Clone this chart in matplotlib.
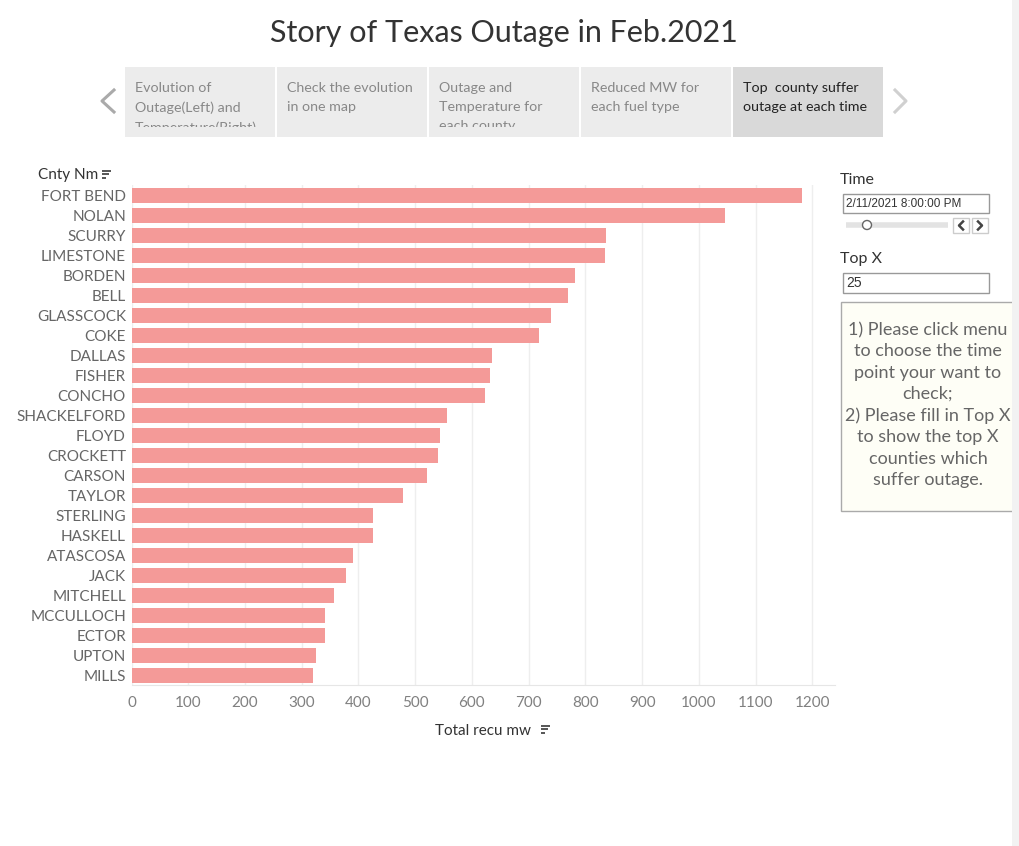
import matplotlib
matplotlib.use('Agg')
import matplotlib.pyplot as plt
from matplotlib.patches import Rectangle, Circle

plt.rcParams['font.family'] = ['Lato', 'DejaVu Sans']

# ================== data ==================
counties = ['FORT BEND', 'NOLAN', 'SCURRY', 'LIMESTONE', 'BORDEN', 'BELL', 'GLASSCOCK',
            'COKE', 'DALLAS', 'FISHER', 'CONCHO', 'SHACKELFORD', 'FLOYD', 'CROCKETT',
            'CARSON', 'TAYLOR', 'STERLING', 'HASKELL', 'ATASCOSA', 'JACK', 'MITCHELL',
            'MCCULLOCH', 'ECTOR', 'UPTON', 'MILLS']
total_mw = [1181, 1046, 836, 834, 781, 769, 739, 718, 635, 632, 623, 556, 544, 540,
            521, 478, 426, 426, 391, 378, 357, 341, 341, 325, 320]
x_ticks = [0, 100, 200, 300, 400, 500, 600, 700, 800, 900, 1000, 1100, 1200]

tab_titles = ['Evolution of\nOutage(Left) and\nTemperature(Right)',
              'Check the evolution\nin one map',
              'Outage and\nTemperature for\neach county',
              'Reduced MW for\neach fuel type',
              'Top  county suffer\noutage at each time']
note_text = ('1) Please click menu\nto choose the time\npoint your want to\ncheck;\n'
             '2) Please fill in Top X\nto show the top X\ncounties which\nsuffer outage.')

W, H = 1019, 846
fig = plt.figure(figsize=(W / 100, H / 100), dpi=100)

# overlay in pixel coords for the dashboard pieces
ov = fig.add_axes([0, 0, 1, 1], zorder=0)
ov.set_xlim(0, W)
ov.set_ylim(H, 0)
ov.axis('off')

# ================== bar chart ==================
ax_l, ax_r, ax_t, ax_b = 131.5, 835, 185, 685
ax = fig.add_axes([ax_l / W, 1 - ax_b / H, (ax_r - ax_l) / W, (ax_b - ax_t) / H], zorder=2)
ax.patch.set_alpha(0)
ypos = list(range(len(counties)))
ax.barh(ypos, total_mw, height=0.75, color='#f49a98', zorder=2)
ax.set_ylim(len(counties) - 0.5, -0.5)
ax.set_xlim(0, 1240)
ax.set_yticks(ypos)
ax.set_yticklabels(counties, fontsize=11, color='#666666')
ax.set_xticks(x_ticks)
ax.set_xticklabels([str(v) for v in x_ticks], fontsize=11, color='#808080')
ax.tick_params(axis='y', length=0, pad=4)
ax.tick_params(axis='x', length=0, pad=8)
ax.grid(axis='x', color='#eeeeee', linewidth=1, zorder=0)
for s in ['top', 'right', 'left']:
    ax.spines[s].set_visible(False)
ax.spines['bottom'].set_color('#e6e6e6')
ax.set_xlabel('Total recu mw', fontsize=11, color='#333333', labelpad=10)

# sort icons
def sort_icon(x, y):
    for i, w in enumerate([9, 7, 4]):
        ov.plot([x, x + w], [y + i * 3.5, y + i * 3.5], color='#555555', lw=1.4,
                solid_capstyle='butt')

ov.text(38, 175, 'Cnty Nm', fontsize=11, color='#333333', va='center', ha='left')
sort_icon(102, 171)
sort_icon(541, 726)

# ================== title ==================
ov.text(504, 33, 'Story of Texas Outage in Feb.2021', fontsize=22, color='#333333',
        ha='center', va='center')

# ================== story tabs ==================
tab_x = [125, 277, 429, 581, 733]
for i, (tx, title) in enumerate(zip(tab_x, tab_titles)):
    selected = i == len(tab_titles) - 1
    box = Rectangle((tx, 67), 150, 70, facecolor='#d9d9d9' if selected else '#ececec',
                    edgecolor='none')
    ov.add_patch(box)
    clip = Rectangle((tx, 67), 150, 60, transform=ov.transData, visible=False)
    ov.add_patch(clip)
    t = ov.text(tx + 10, 82, title, fontsize=10.3, color='#222222' if selected else '#888888',
                ha='left', va='top', linespacing=1.72, clip_on=True)
    t.set_clip_path(clip)
# story navigation chevrons
ov.plot([114, 102, 114], [90, 101, 112], color='#aaaaaa', lw=2.2)
ov.plot([895, 906, 895], [90, 101, 112], color='#d0d0d0', lw=2.2)

# ================== right panel ==================
ov.text(840, 180, 'Time', fontsize=11.5, color='#333333', va='center')
ov.add_patch(Rectangle((843, 194), 146, 19, facecolor='white', edgecolor='#999999', lw=1))
ov.text(846, 204, '2/11/2021 8:00:00 PM', fontsize=8.5, color='#333333', va='center',
        family='Liberation Sans')
ov.plot([846, 948], [225, 225], color='#e3e3e3', lw=4, solid_capstyle='butt')
ov.add_patch(Circle((867, 225), 4.5, facecolor='white', edgecolor='#666666', lw=1, zorder=3))
for bx, d in [(953, -1), (972, 1)]:
    ov.add_patch(Rectangle((bx, 218), 16, 15, facecolor='white', edgecolor='#cccccc', lw=1))
    cx = bx + 8
    ov.plot([cx - 2 * d, cx + 2 * d, cx - 2 * d], [221.5, 225.5, 229.5], color='#444444',
            lw=1.8)

ov.text(840, 259, 'Top X', fontsize=11.5, color='#333333', va='center')
ov.add_patch(Rectangle((843, 273), 146, 20, facecolor='white', edgecolor='#999999', lw=1))
ov.text(846, 283, '25', fontsize=10, color='#333333', va='center', family='Liberation Sans')

ov.add_patch(Rectangle((841, 302), 173, 209, facecolor='#fefef6', edgecolor='#aaaaaa', lw=1))
ov.text(928, 405, note_text, fontsize=13, color='#666666', ha='center', va='center',
        linespacing=1.41)

# scrollbar strip
ov.add_patch(Rectangle((1012, 0), 7, H, facecolor='#f2f2f2', edgecolor='none'))

fig.savefig('out.png', dpi=100)
